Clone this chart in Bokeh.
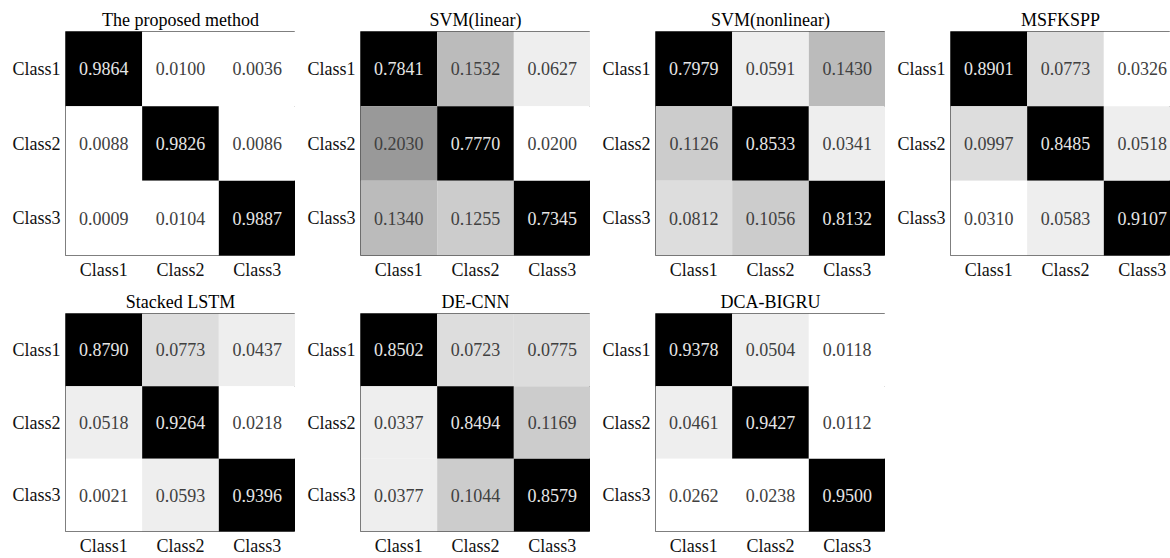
from bokeh.plotting import figure
from bokeh.models import ColumnDataSource, LinearColorMapper, FixedTicker, Range1d
from bokeh.layouts import row, column
from bokeh.transform import transform
from bokeh.core.properties import value
from bokeh.embed import file_html
from bokeh.resources import INLINE

classes = ["Class1", "Class2", "Class3"]
methods = ["The proposed method", "SVM(linear)", "SVM(nonlinear)", "MSFKSPP",
           "Stacked LSTM", "DE-CNN", "DCA-BIGRU"]

proposed = [[0.9864, 0.0100, 0.0036], [0.0088, 0.9826, 0.0086], [0.0009, 0.0104, 0.9887]]
svm_linear = [[0.7841, 0.1532, 0.0627], [0.2030, 0.7770, 0.0200], [0.1340, 0.1255, 0.7345]]
svm_nonlinear = [[0.7979, 0.0591, 0.1430], [0.1126, 0.8533, 0.0341], [0.0812, 0.1056, 0.8132]]
msfkspp = [[0.8901, 0.0773, 0.0326], [0.0997, 0.8485, 0.0518], [0.0310, 0.0583, 0.9107]]
stacked_lstm = [[0.8790, 0.0773, 0.0437], [0.0518, 0.9264, 0.0218], [0.0021, 0.0593, 0.9396]]
de_cnn = [[0.8502, 0.0723, 0.0775], [0.0337, 0.8494, 0.1169], [0.0377, 0.1044, 0.8579]]
dca_bigru = [[0.9378, 0.0504, 0.0118], [0.0461, 0.9427, 0.0112], [0.0262, 0.0238, 0.9500]]

matrices = [proposed, svm_linear, svm_nonlinear, msfkspp, stacked_lstm, de_cnn, dca_bigru]

# grayscale colormap: 16 steps from white to black
grays = [255 - 17 * k for k in range(16)]
palette = ["#%02x%02x%02x" % (g, g, g) for g in grays]
mapper = LinearColorMapper(palette=palette, low=0.0, high=16 / 30, high_color="#000000")

SERIF = "Liberation Serif"
n = len(classes)


def make_panel(title, mat, width, height, x_end, bottom_border):
    xs, ys, vals, labels, tcolors = [], [], [], [], []
    for i, rowvals in enumerate(mat):          # true class (row)
        for j, v in enumerate(rowvals):        # predicted class (col)
            xs.append(j + 0.5)
            ys.append(n - i - 0.5)
            vals.append(v)
            labels.append(f"{v:.4f}")
            tcolors.append("#e6e6e6" if v > 0.5 else "#404040")
    src = ColumnDataSource(dict(x=xs, y=ys, v=vals, label=labels, tc=tcolors))

    p = figure(width=width, height=height, output_backend="svg", toolbar_location=None,
               x_range=Range1d(0, x_end), y_range=Range1d(0, n), title=title,
               min_border_left=65, min_border_right=0,
               min_border_top=31, min_border_bottom=bottom_border)
    p.rect(x="x", y="y", width=1, height=1, source=src,
           fill_color=transform("v", mapper), line_color=None)
    p.text(x="x", y="y", text="label", source=src, text_color="tc",
           text_align="center", text_baseline="middle",
           text_font=value(SERIF), text_font_size="18px")

    p.title.align = "center"
    p.title.text_font = SERIF
    p.title.text_font_style = "normal"
    p.title.text_font_size = "18px"
    p.title.text_color = "#000000"
    p.title.standoff = 3

    p.xaxis.ticker = FixedTicker(ticks=[k + 0.5 for k in range(n)])
    p.xaxis.major_label_overrides = {k + 0.5: c for k, c in enumerate(classes)}
    p.yaxis.ticker = FixedTicker(ticks=[k + 0.5 for k in range(n)])
    p.yaxis.major_label_overrides = {n - k - 0.5: c for k, c in enumerate(classes)}
    for ax in (p.xaxis, p.yaxis):
        ax.axis_line_color = None
        ax.major_tick_line_color = None
        ax.minor_tick_line_color = None
        ax.major_tick_out = 0
        ax.major_tick_in = 0
        ax.minor_tick_out = 0
        ax.minor_tick_in = 0
        ax.major_label_text_font = SERIF
        ax.major_label_text_font_size = "18px"
        ax.major_label_text_color = "#111111"
    p.xaxis.major_label_standoff = 4
    p.yaxis.major_label_standoff = 5
    p.yaxis.major_label_orientation = "horizontal"

    p.grid.visible = False
    p.outline_line_color = "#555555"
    p.outline_line_width = 1
    p.background_fill_color = "#ffffff"
    p.border_fill_color = "#ffffff"
    return p


figs = []
for idx, (t, m) in enumerate(zip(methods, matrices)):
    top_row = idx < 4
    h = 282 if top_row else 276
    bb = 27 if top_row else 23
    if idx == 3:
        f = make_panel(t, m, 285, h, n * 220 / 230, bb)
    else:
        f = make_panel(t, m, 295, h, n, bb)
    figs.append(f)

layout = column(row(*figs[:4], spacing=0), row(*figs[4:], spacing=0), spacing=0)

open("out.html", "w").write(file_html(layout, INLINE))
